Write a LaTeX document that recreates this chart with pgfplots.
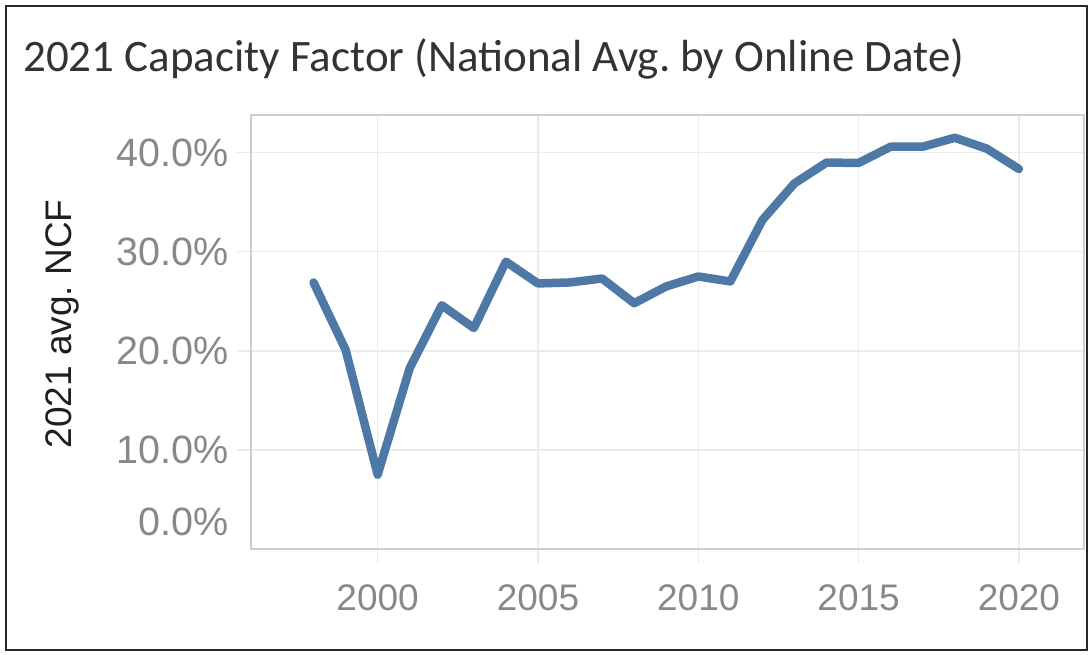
\documentclass[border=0pt]{standalone}
\usepackage{pgfplots}
\pgfplotsset{compat=1.18}
\usepackage{fontspec}
\setmainfont{Carlito}
\newfontfamily\tickfont{Liberation Sans}
\definecolor{tblue}{HTML}{4E79A7}
\definecolor{gridc}{HTML}{EBEBEB}
\definecolor{framec}{HTML}{CDCDCD}
\definecolor{tickc}{HTML}{888888}
\definecolor{titlec}{HTML}{333333}
\begin{document}
\begin{tikzpicture}[x=1pt,y=1pt]
\path[use as bounding box] (0,0) rectangle (1090,655);
\draw[line width=2.5pt, black!85] (6,5) rectangle (1087,649);
\node[anchor=base west, inner sep=0pt, font=\fontsize{45}{45}\selectfont, text=titlec] at (23,583) {2021 Capacity Factor (National Avg.\ by Online Date)};
\node[rotate=90, inner sep=0pt, font=\tickfont\fontsize{37}{37}\selectfont, text=black!88] at (62,331) {2021 avg.\ NCF};
\begin{axis}[
  at={(251pt,106pt)}, anchor=south west,
  width=833pt, height=434pt, scale only axis,
  xmin=1996.05, xmax=2022.03, ymin=0, ymax=43.8,
  axis line style={framec, line width=1.5pt},
  grid=major, grid style={gridc, line width=1.5pt},
  xtick pos=bottom, ytick pos=left,
  xtick={2000,2005,2010,2015,2020},
  xticklabels={2000,2005,2010,2015,2020},
  ytick={10,20,30,40},
  yticklabels={10.0\%,20.0\%,30.0\%,40.0\%},
  extra y ticks={0}, extra y tick labels={0.0\%},
  extra y tick style={grid=none, tick style={draw=none}, yticklabel style={yshift=27pt}},
  tick align=outside, major tick length=14pt,
  tick style={gridc, line width=1.5pt},
  ticklabel style={font=\tickfont\fontsize{37}{37}\selectfont, text=tickc, inner sep=0pt},
  yticklabel style={anchor=east, xshift=-8pt, font=\tickfont\fontsize{39.5}{39.5}\selectfont},
  xticklabel style={anchor=base, yshift=-48pt},
  clip=false,
]
\addplot[tblue, line width=8.5pt, line join=round, line cap=round] coordinates {
(1998,26.9) (1999,20.1) (2000,7.5) (2001,18.25) (2002,24.6) (2003,22.3)
(2004,29.0) (2005,26.8) (2006,26.9) (2007,27.3) (2008,24.8) (2009,26.5)
(2010,27.5) (2011,27.0) (2012,33.2) (2013,36.9) (2014,39.0) (2015,38.96)
(2016,40.6) (2017,40.6) (2018,41.5) (2019,40.4) (2020,38.35)
};
\end{axis}
\end{tikzpicture}
\end{document}
